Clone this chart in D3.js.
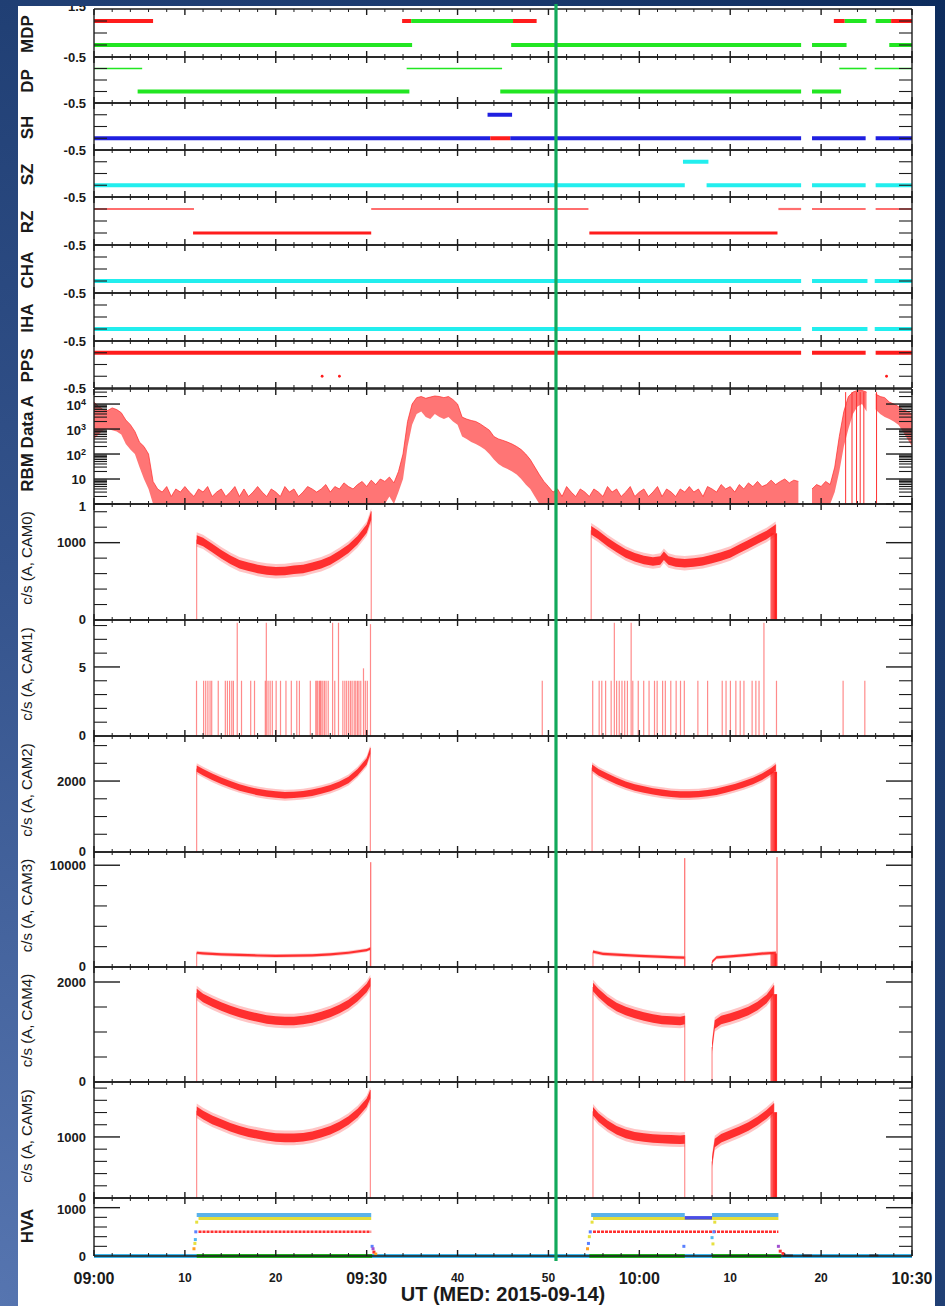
<!DOCTYPE html>
<html>
<head>
<meta charset="utf-8">
<script src="https://cdn.jsdelivr.net/npm/d3@7"></script>
<style>
html, body { margin: 0; padding: 0; }
body {
  width: 945px; height: 1306px; overflow: hidden;
  background: radial-gradient(ellipse at 0% 100%, #5675b0 0%, #34538c 40%, #0d2c5d 100%);
}
svg { position: absolute; left: 0; top: 0; }
</style>
</head>
<body>
<svg id="chart" width="945" height="1306"></svg>
<script>
// ---------- time axis (minutes after 09:00 UT) ----------
const timeDomain = [0, 90];
const majorTimeLabels = ["09:00", "10", "20", "09:30", "40", "50", "10:00", "10", "20", "10:30"];
const eventTime = 50.83;

// ---------- status flags: [start, end, level, state] ----------
const mdpSegments = [
  [0, 6.5, 1, "r"], [33.9, 34.9, 1, "r"], [34.9, 46.1, 1, "g"], [46.1, 48.7, 1, "r"],
  [81.4, 82.6, 1, "r"], [82.6, 85.0, 1, "g"], [86.0, 87.7, 1, "g"], [87.7, 90, 1, "r"],
  [0, 35.0, 0, "g"], [45.9, 77.8, 0, "g"], [79.0, 82.8, 0, "g"], [87.5, 90, 0, "g"]
];
const dpSegments = [
  [0, 5.3, 1, "g"], [34.4, 44.9, 1, "g"], [82.0, 85.0, 1, "g"], [85.9, 90, 1, "g"],
  [4.8, 34.7, 0, "g"], [44.7, 77.8, 0, "g"], [79.0, 82.2, 0, "g"]
];
const shSegments = [
  [43.3, 46.0, 1, "b"],
  [0, 43.6, 0, "b"], [43.6, 45.8, 0, "r"], [45.8, 77.8, 0, "b"], [79.0, 84.9, 0, "b"], [86.0, 90, 0, "b"]
];
const szSegments = [
  [64.8, 67.6, 1, "c"],
  [0, 65.0, 0, "c"], [67.4, 77.8, 0, "c"], [79.0, 84.9, 0, "c"], [86.0, 90, 0, "c"]
];
const rzSegments = [
  [0, 11.0, 1, "p"], [30.5, 54.4, 1, "p"], [75.3, 77.8, 1, "p"], [79.0, 84.9, 1, "p"], [86.0, 90, 1, "p"],
  [10.9, 30.5, 0, "r"], [54.5, 75.2, 0, "r"]
];
const chaSegments = [[0, 77.8, 0, "c"], [79.0, 85.1, 0, "c"], [85.9, 90, 0, "c"]];
const ihaSegments = [[0, 77.8, 0, "c"], [79.0, 85.1, 0, "c"], [85.9, 90, 0, "c"]];
const ppsSegments = [[0, 77.8, 1, "r"], [79.0, 84.9, 1, "r"], [86.0, 90, 1, "r"]];
const ppsDots = [25.1, 27.0, 87.2];

// ---------- RBM Data A (counts), sampled every 0.5 min from 09:00 ----------
const rbmStep = 0.5;
const rbmHigh = [
  12000, 8000, 6000, 5500, 7000, 6000, 4500, 2300, 1500, 800,
  300, 200, 100, 8, 4, 3, 5, 2, 4, 3,
  5, 3, 2, 4, 3, 5, 2, 3, 4, 2,
  3, 5, 2, 4, 2, 3, 5, 3, 2, 4,
  3, 2, 5, 3, 4, 2, 3, 5, 4, 3,
  4, 6, 3, 5, 4, 7, 5, 4, 6, 8,
  5, 9, 6, 10, 8, 12, 7, 20, 100, 2000,
  10000, 18000, 20000, 17000, 19000, 21000, 20000, 18000, 20000, 15000,
  10000, 3000, 2500, 2200, 2000, 1600, 1200, 900, 500, 400,
  350, 300, 250, 200, 150, 100, 60, 30, 15, 8,
  5, 3, 4, 2, 5, 3, 2, 4, 3, 2,
  4, 3, 2, 5, 3, 4, 2, 3, 5, 2,
  3, 4, 2, 3, 5, 2, 4, 3, 2, 4,
  3, 5, 3, 4, 2, 5, 4, 3, 6, 4,
  5, 3, 6, 4, 7, 5, 8, 5, 6, 9,
  6, 8, 10, 7, 9, 8, null, null, 4, 6,
  5, 8, 6, 30, 500, 5000, 20000, 30000, 35000, 35000,
  30000, null, 25000, 20000, 18000, 12000, 10000, 8000, 6000, 5000,
  4000
];
const rbmLow = [
  400, 600, 900, 1000, 900, 800, 600, 250, 150, 100,
  30, 10, 4, 1, 1, 1, 1, 1, 1, 1,
  1, 1, 1, 1, 1, 1, 1, 1, 1, 1,
  1, 1, 1, 1, 1, 1, 1, 1, 1, 1,
  1, 1, 1, 1, 1, 1, 1, 1, 1, 1,
  1, 1, 1, 1, 1, 1, 1, 1, 1, 1,
  1, 1, 1, 1, 1, 2, 1, 3, 10, 200,
  1500, 4000, 5000, 3000, 2500, 4000, 3000, 2500, 3000, 2000,
  1500, 500, 400, 300, 250, 200, 150, 100, 60, 40,
  30, 25, 20, 15, 10, 6, 4, 2, 1, 1,
  1, 1, 1, 1, 1, 1, 1, 1, 1, 1,
  1, 1, 1, 1, 1, 1, 1, 1, 1, 1,
  1, 1, 1, 1, 1, 1, 1, 1, 1, 1,
  1, 1, 1, 1, 1, 1, 1, 1, 1, 1,
  1, 1, 1, 1, 1, 1, 1, 1, 1, 1,
  1, 1, 1, 1, 1, 1, null, null, 1, 1,
  1, 1, 1, 3, 20, 200, 1000, 4000, 8000, 10000,
  5000, null, 6000, 4000, 3000, 2500, 2000, 1500, 800, 400,
  200
];
const rbmDropTimes = [82.7, 83.4, 83.9, 84.3, 84.7, 86.1];

// ---------- camera count rates, c/s: [minute, value] ----------
const cam0Seg1 = [[11.3,1040],[12,1010],[13,930],[14,850],[15,780],[16,720],[17,690],[18,660],[19,640],[20,630],[21,635],[22,650],[23,660],[24,690],[25,720],[26,770],[27,840],[28,920],[29,1030],[30,1180],[30.5,1350]];
const cam0Seg2 = [[54.7,1160],[55.5,1100],[56.5,1010],[57.5,930],[58.5,860],[59.5,810],[60.5,775],[61.5,755],[62.3,770],[62.7,830],[63.2,770],[64,745],[65,735],[66,745],[67,760],[68,790],[69,820],[70,860],[71,920],[72,980],[73,1040],[74,1100],[75,1180]];

const cam1Spikes = [
  [11.28,4],[12.06,4],[12.29,4],[12.53,4],[12.77,4],[12.95,4],[13.67,4],[14.45,4],[14.68,4],[14.92,4],[15.16,4],[15.34,4],
  [15.76,8.2],[16.23,4],[17.24,4],[17.66,4],[18.85,4],[18.96,8.2],[19.15,4],[19.38,4],[19.62,4],[20.04,4],[20.52,4],
  [21.12,4],[21.71,4],[22.31,4],[22.60,4],[23.80,4],[24.40,4],[24.52,4],[24.63,4],[24.81,4],[24.90,4],[24.99,4],[25.17,4],
  [25.35,4],[25.53,4],[25.77,4],[26.25,8.2],[26.49,4],[26.90,8.2],[27.38,4],[27.60,4],[27.80,4],[28.02,4],[28.22,4],
  [28.40,4],[28.63,4],[28.80,4],[28.99,4],[29.15,4],[29.35,4],[29.65,4.9],[29.85,4],[30.07,4],[30.42,8.1],
  [49.32,4],
  [54.87,4],[55.58,4],[55.87,4],[56.29,4],[56.90,4],[57.25,8.2],[57.50,4],[57.79,4],[58.09,4],[58.39,4],[58.69,4],
  [59.10,8.2],[59.28,4],[59.88,4],[60.48,4],[61.07,4],[61.67,4],[61.96,4],[62.56,4],[62.86,4],[63.46,4],[64.05,4],
  [64.53,4],[64.95,4],[66.44,4],[67.51,4],[69.12,4],[69.54,4],[70.02,4],[70.62,4],[71.10,4],[71.51,4],[72.41,4],
  [72.82,4],[73.17,4],[73.71,8.2],[75.09,4],[82.42,4],[84.81,4]
];

const cam2Seg1 = [[11.3,2350],[12,2250],[13,2120],[14,2010],[15,1910],[16,1820],[17,1750],[18,1690],[19,1650],[20,1620],[21,1600],[22,1610],[23,1630],[24,1670],[25,1730],[26,1800],[27,1900],[28,2030],[29,2250],[30,2550],[30.4,2850]];
const cam2Seg2 = [[54.8,2380],[55.5,2250],[56.5,2120],[57.5,2000],[58.5,1900],[59.5,1820],[60.5,1760],[61.5,1710],[62.5,1670],[63.5,1640],[64.5,1620],[65.5,1620],[66.5,1630],[67.5,1660],[68.5,1700],[69.5,1760],[70.5,1830],[71.5,1910],[72.5,2000],[73.5,2120],[74.5,2280],[75,2380]];

const cam3Seg1 = [[11.3,1400],[12,1350],[14,1250],[16,1180],[18,1130],[20,1100],[22,1110],[24,1150],[26,1250],[28,1400],[30,1650],[30.4,1800]];
const cam3Seg2a = [[54.9,1500],[56,1300],[58,1180],[60,1100],[62,1020],[64,950],[65,920]];
const cam3Seg2b = [[68.0,500],[68.5,950],[70,1050],[72,1200],[74,1350],[75,1400]];
const cam3Spikes = [[30.45,10300],[65.0,10700],[75.15,10800]];

const cam4Seg1 = [[11.3,1780],[12,1680],[13,1590],[14,1510],[15,1440],[16,1380],[17,1330],[18,1290],[19,1250],[20,1230],[21,1220],[22,1220],[23,1240],[24,1270],[25,1320],[26,1380],[27,1460],[28,1560],[29,1700],[30,1880],[30.4,2000]];
const cam4Seg2a = [[54.9,1900],[55.5,1780],[56.5,1620],[57.5,1500],[58.5,1420],[59.5,1360],[60.5,1310],[61.5,1270],[62.5,1240],[63.5,1230],[64.5,1220],[65,1240]];
const cam4Seg2b = [[68.0,700],[68.3,1150],[69,1240],[70,1290],[71,1350],[72,1420],[73,1520],[74,1660],[74.8,1850]];

const cam5Seg1 = [[11.3,1430],[12,1360],[13,1280],[14,1220],[15,1160],[16,1110],[17,1070],[18,1040],[19,1010],[20,990],[21,985],[22,985],[23,995],[24,1020],[25,1060],[26,1110],[27,1180],[28,1270],[29,1390],[30,1560],[30.4,1700]];
const cam5Seg2a = [[54.9,1420],[55.5,1320],[56.5,1200],[57.5,1110],[58.5,1050],[59.5,1010],[60.5,990],[61.5,975],[62.5,965],[63.5,960],[64.5,955],[65,960]];
const cam5Seg2b = [[68.0,600],[68.3,900],[69,980],[70,1040],[71,1100],[72,1170],[73,1260],[74,1370],[74.8,1480]];

const camBurstTimes = [74.5, 74.62, 74.74, 74.86, 74.98, 75.1];

// ---------- HVA high voltage readings: [start, end, value] ----------
const hvaBlue = [[11.3, 30.5, 850], [54.7, 65.0, 850], [68.0, 75.3, 850]];
const hvaBlueReduced = [[65.0, 68.0, 790]];
const hvaYellow = [[11.5, 30.5, 775], [54.9, 75.3, 775]];
const hvaRed = [[11.5, 30.5, 500], [54.9, 75.3, 500]];
const hvaGreen = [[11.3, 30.6], [54.5, 65.0], [68.0, 75.6]];
const hvaBaseline = [[0, 90]];
const hvaDark = [[75.8, 76.9], [78.0, 79.0], [85.3, 86.3]];
const hvaTransitions = [
  [11.0, 150, "o"], [11.1, 260, "y"], [11.15, 340, "l"], [11.2, 500, "b"], [11.3, 700, "y"],
  [30.6, 200, "b"], [30.7, 150, "v"], [30.8, 80, "r"], [31.0, 40, "o"],
  [54.3, 150, "o"], [54.4, 260, "b"], [54.5, 400, "y"], [54.6, 500, "b"], [54.8, 700, "y"],
  [64.9, 200, "b"], [68.0, 380, "l"], [68.1, 250, "y"], [68.2, 500, "b"], [68.3, 700, "y"],
  [75.3, 200, "v"], [75.5, 100, "r"], [75.8, 50, "r"]
];

// ---------- layout and styling ----------
const X0 = 94, X1 = 912;
const FONT = "'Liberation Sans', Arial, Helvetica, sans-serif";
const stateColor = { r: "#ff1c1c", g: "#22e622", b: "#1f1fe0", c: "#22eeee", p: "#ff6e6e" };
const hvaColor = { o: "#ffa020", y: "#e6e040", l: "#50b8f0", b: "#5a80ff", v: "#a050d0", r: "#ff3030" };

const statePanels = [
  { title: "MDP", top: 9,   bottom: 57,  segs: mdpSegments, widths: [4, 4] },
  { title: "DP",  top: 57,  bottom: 103, segs: dpSegments,  widths: [4, 1.6] },
  { title: "SH",  top: 103, bottom: 150, segs: shSegments,  widths: [4, 4] },
  { title: "SZ",  top: 150, bottom: 197, segs: szSegments,  widths: [4, 4] },
  { title: "RZ",  top: 197, bottom: 245, segs: rzSegments,  widths: [3, 2.2] },
  { title: "CHA", top: 245, bottom: 293, segs: chaSegments, widths: [4, 4] },
  { title: "IHA", top: 293, bottom: 341, segs: ihaSegments, widths: [4, 4] },
  { title: "PPS", top: 341, bottom: 388, segs: ppsSegments, widths: [4, 4] }
];

const camPanels = [
  { title: "c/s (A, CAM0)", top: 504, bottom: 620, max: 1500, majors: [1000], minorStep: 200, segs: [cam0Seg1, cam0Seg2], band: 55 },
  { title: "c/s (A, CAM1)", top: 620, bottom: 736, max: 8.4, majors: [5], minorStep: 1, segs: [], band: 0 },
  { title: "c/s (A, CAM2)", top: 736, bottom: 852, max: 3270, majors: [2000], minorStep: 500, segs: [cam2Seg1, cam2Seg2], band: 90 },
  { title: "c/s (A, CAM3)", top: 852, bottom: 967, max: 11300, majors: [10000], minorStep: 2000, segs: [cam3Seg1, cam3Seg2a, cam3Seg2b], band: 110 },
  { title: "c/s (A, CAM4)", top: 967, bottom: 1082, max: 2300, majors: [2000], minorStep: 500, segs: [cam4Seg1, cam4Seg2a, cam4Seg2b], band: 85 },
  { title: "c/s (A, CAM5)", top: 1082, bottom: 1198, max: 1900, majors: [1000], minorStep: 200, segs: [cam5Seg1, cam5Seg2a, cam5Seg2b], band: 70 }
];

const x = d3.scaleLinear().domain(timeDomain).range([X0, X1]);

const svg = d3.select("#chart");
svg.append("defs").append("clipPath").attr("id", "paper")
  .append("rect").attr("x", 18).attr("y", 6).attr("width", 917).attr("height", 1300);
const root = svg.append("g").attr("clip-path", "url(#paper)");
root.append("rect").attr("x", 18).attr("y", 6).attr("width", 917).attr("height", 1300).attr("fill", "#ffffff");

const marks = root.append("g");
const axes = root.append("g");
const labels = root.append("g").attr("font-family", FONT).attr("fill", "#1a1a1a");

// Frame, time ticks and value ticks of one panel
function drawFrame(top, bottom, y, majorVals, minorVals, majorLen, minorLen) {
  const a = axes.append("g").attr("stroke", "#1c1c1c").attr("fill", "none");
  [top, bottom].forEach(yy => a.append("line")
    .attr("x1", X0).attr("x2", X1).attr("y1", yy).attr("y2", yy).attr("stroke-width", 1.6));
  [X0, X1].forEach(xx => a.append("line")
    .attr("x1", xx).attr("x2", xx).attr("y1", top).attr("y2", bottom).attr("stroke-width", 1.4));
  d3.range(timeDomain[0], timeDomain[1] + 0.01, 2).forEach(t => {
    const len = t % 10 === 0 ? 6 : 3;
    const xx = x(t);
    a.append("line").attr("x1", xx).attr("x2", xx).attr("y1", top).attr("y2", top + len).attr("stroke-width", t % 10 === 0 ? 1.4 : 1);
    a.append("line").attr("x1", xx).attr("x2", xx).attr("y1", bottom).attr("y2", bottom - len).attr("stroke-width", t % 10 === 0 ? 1.4 : 1);
  });
  const tick = (v, len, w) => {
    const yy = y(v);
    a.append("line").attr("x1", X0).attr("x2", X0 + len).attr("y1", yy).attr("y2", yy).attr("stroke-width", w);
    a.append("line").attr("x1", X1).attr("x2", X1 - len).attr("y1", yy).attr("y2", yy).attr("stroke-width", w);
  };
  majorVals.forEach(v => tick(v, majorLen, 1.4));
  minorVals.forEach(v => tick(v, minorLen, 1.1));
}

function yLabel(text, yy) {
  labels.append("text").attr("x", 86).attr("y", yy).attr("dy", "0.36em")
    .attr("text-anchor", "end").attr("font-size", 13).attr("font-weight", "bold").text(text);
}

function sideTitle(text, cy, size, weight) {
  labels.append("text")
    .attr("transform", `translate(27,${cy}) rotate(-90)`)
    .attr("dy", "0.36em").attr("text-anchor", "middle")
    .attr("font-size", size).attr("font-weight", weight).text(text);
}

// ---------- status panels ----------
statePanels.forEach((p, i) => {
  const y = d3.scaleLinear().domain([-0.5, 1.5]).range([p.bottom, p.top]);
  drawFrame(p.top, p.bottom, y, [], [0, 0.5, 1], 0, 13);
  const g = marks.append("g");
  p.segs.forEach(s => {
    g.append("line")
      .attr("x1", x(s[0])).attr("x2", x(s[1]))
      .attr("y1", y(s[2])).attr("y2", y(s[2]))
      .attr("stroke", stateColor[s[3]])
      .attr("stroke-width", p.widths[s[2]]);
  });
  if (p.title === "PPS") {
    ppsDots.forEach(t => g.append("circle").attr("cx", x(t)).attr("cy", y(0)).attr("r", 1.4).attr("fill", stateColor.r));
  }
  if (i === 0) yLabel("1.5", p.top - 3);
  yLabel("-0.5", p.bottom);
  sideTitle(p.title, (p.top + p.bottom) / 2 + 1, 17, "bold");
});

// ---------- RBM panel (log scale) ----------
{
  const top = 389, bottom = 504;
  const y = d3.scaleLog().domain([1, 40000]).range([bottom, top]).clamp(true);
  const decades = [1, 10, 100, 1000, 10000];
  const minors = [];
  decades.forEach(d => d3.range(2, 10).forEach(k => { if (d * k < 40000) minors.push(d * k); }));
  drawFrame(top, bottom, y, decades, minors, 26, 13);

  const rows = rbmHigh.map((h, i) => ({ t: i * rbmStep, hi: h, lo: rbmLow[i] }));
  const area = d3.area()
    .defined(d => d.hi != null)
    .x(d => x(d.t)).y0(d => y(d.lo)).y1(d => y(d.hi));
  const upper = d3.line()
    .defined(d => d.hi != null)
    .x(d => x(d.t)).y(d => y(d.hi));
  marks.append("path").datum(rows).attr("d", area)
    .attr("fill", "#ff3a3a").attr("fill-opacity", 0.7);
  marks.append("path").datum(rows).attr("d", upper)
    .attr("fill", "none").attr("stroke", "#ff2a2a").attr("stroke-width", 1).attr("stroke-opacity", 0.7);
  rbmDropTimes.forEach(t => marks.append("line")
    .attr("x1", x(t)).attr("x2", x(t)).attr("y1", y(1)).attr("y2", y(30000))
    .attr("stroke", "#ff3030").attr("stroke-width", 1));

  const sup = [["10", "4", 10000], ["10", "3", 1000], ["10", "2", 100]];
  sup.forEach(s => {
    const t = labels.append("text").attr("x", 86).attr("y", y(s[2])).attr("dy", "0.45em")
      .attr("text-anchor", "end").attr("font-size", 13).attr("font-weight", "bold");
    t.append("tspan").text(s[0]);
    t.append("tspan").attr("dy", "-0.5em").attr("font-size", 9).text(s[1]);
  });
  yLabel("10", y(10));
  yLabel("1", y(1) + 2);
  sideTitle("RBM Data A", (top + bottom) / 2 - 3, 17, "bold");
}

// ---------- camera panels ----------
camPanels.forEach((p) => {
  const y = d3.scaleLinear().domain([0, p.max]).range([p.bottom, p.top]);
  const minors = d3.range(p.minorStep, p.max, p.minorStep)
    .filter(v => !p.majors.some(m => Math.abs(m - v) < 1e-6));
  drawFrame(p.top, p.bottom, y, p.majors, minors, 26, 13);
  const g = marks.append("g");

  const bandOf = k => d3.area()
    .x(d => x(d[0]))
    .y0(d => y(Math.max(0, d[1] - p.band * k)))
    .y1(d => y(d[1] + p.band * k));
  p.segs.forEach(seg => {
    const first = seg[0], last = seg[seg.length - 1];
    g.append("line").attr("x1", x(first[0])).attr("x2", x(first[0]))
      .attr("y1", y(0)).attr("y2", y(first[1])).attr("stroke", "#ff7a7a").attr("stroke-width", 1);
    g.append("line").attr("x1", x(last[0])).attr("x2", x(last[0]))
      .attr("y1", y(0)).attr("y2", y(last[1] + p.band)).attr("stroke", "#ff7a7a").attr("stroke-width", 1);
    // faint outer fringe of the count-rate scatter, then the dense core
    g.append("path").datum(seg).attr("d", bandOf(1.7))
      .attr("fill", "#ff4040").attr("fill-opacity", 0.3);
    g.append("path").datum(seg).attr("d", bandOf(1))
      .attr("fill", "#ff1e1e").attr("fill-opacity", 0.9);
  });
  if (p.segs.length) {
    const endSeg = p.segs[p.segs.length - 1];
    const endVal = endSeg[endSeg.length - 1][1];
    camBurstTimes.forEach(t => g.append("line")
      .attr("x1", x(t)).attr("x2", x(t)).attr("y1", y(0)).attr("y2", y(endVal * 0.95))
      .attr("stroke", "#ff2020").attr("stroke-width", 1));
  }
  if (p.title.includes("CAM1")) {
    cam1Spikes.forEach(s => g.append("line")
      .attr("x1", x(s[0])).attr("x2", x(s[0])).attr("y1", y(0)).attr("y2", y(s[1]))
      .attr("stroke", "#ff5a5a").attr("stroke-opacity", 0.7).attr("stroke-width", 1.2));
  }
  if (p.title.includes("CAM3")) {
    cam3Spikes.forEach(s => g.append("line")
      .attr("x1", x(s[0])).attr("x2", x(s[0])).attr("y1", y(0)).attr("y2", y(s[1]))
      .attr("stroke", "#ff5050").attr("stroke-width", 1));
  }
  p.majors.forEach(v => yLabel(String(v), y(v)));
  yLabel("0", y(0) - 1);
  sideTitle(p.title, (p.top + p.bottom) / 2 - 4, 15, "normal");
});

// ---------- HVA panel ----------
{
  const top = 1198, bottom = 1256;
  const y = d3.scaleLinear().domain([0, 1200]).range([bottom, top]);
  const minors = [200, 400, 600, 800];
  drawFrame(top, bottom, y, [1000], minors, 26, 13);
  const g = marks.append("g");
  const hline = (t0, t1, v, color, w, dash) => g.append("line")
    .attr("x1", x(t0)).attr("x2", x(t1)).attr("y1", y(v)).attr("y2", y(v))
    .attr("stroke", color).attr("stroke-width", w).attr("stroke-dasharray", dash || null);

  hvaBaseline.forEach(s => hline(s[0], s[1], 0, "#3cb6ec", 4));
  hvaGreen.forEach(s => hline(s[0], s[1], 0, "#1fae1f", 4));
  hvaDark.forEach(s => hline(s[0], s[1], 10, "#4a3030", 2));
  hvaRed.forEach(s => hline(s[0], s[1], s[2], "#ff3030", 2.5, "3 1"));
  hvaYellow.forEach(s => hline(s[0], s[1], s[2], "#e2dc3a", 3));
  hvaBlue.forEach(s => hline(s[0], s[1], s[2], "#5ab2ea", 4));
  hvaBlueReduced.forEach(s => hline(s[0], s[1], s[2], "#4a4ee6", 3.5));
  hvaTransitions.forEach(d => g.append("rect")
    .attr("x", x(d[0]) - 1.5).attr("y", y(d[1]) - 1.5).attr("width", 3).attr("height", 3)
    .attr("fill", hvaColor[d[2]]));

  yLabel("1000", y(1000) + 2);
  yLabel("0", y(0));
  sideTitle("HVA", (top + bottom) / 2 - 1, 17, "bold");
}

// ---------- bottom time labels ----------
majorTimeLabels.forEach((lab, i) => {
  const t = i * 10;
  const big = lab.includes(":");
  labels.append("text").attr("x", x(t)).attr("y", 1278).attr("dy", "0.36em")
    .attr("text-anchor", "middle").attr("font-weight", "bold")
    .attr("font-size", big ? 16 : 12).text(lab);
});
labels.append("text").attr("x", 503).attr("y", 1301)
  .attr("text-anchor", "middle").attr("font-weight", "bold").attr("font-size", 20)
  .text("UT (MED: 2015-09-14)");

// ---------- event marker ----------
svg.append("line")
  .attr("x1", x(eventTime)).attr("x2", x(eventTime))
  .attr("y1", 4).attr("y2", 1261)
  .attr("stroke", "#12a95b").attr("stroke-width", 3.2);
</script>
</body>
</html>
